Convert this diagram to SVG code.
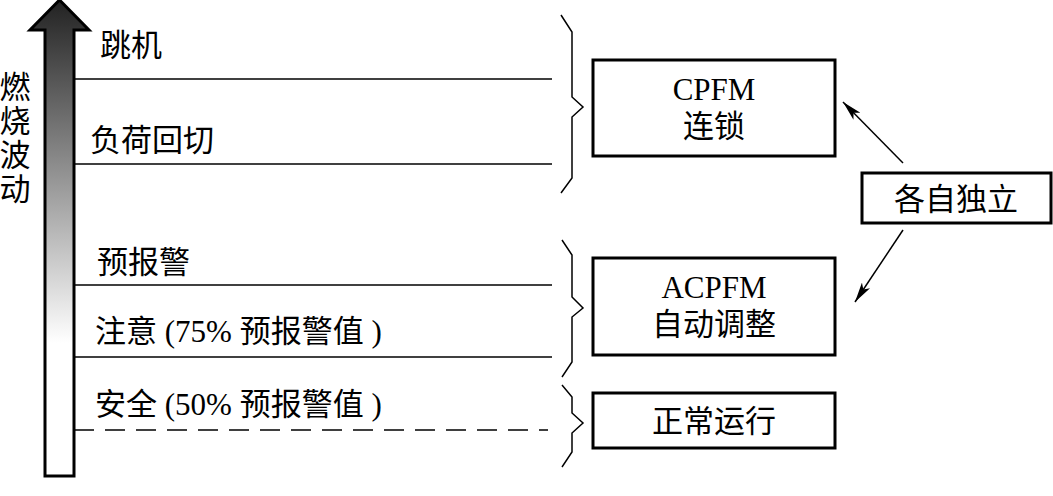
<svg xmlns="http://www.w3.org/2000/svg" width="1053" height="496" viewBox="0 0 1053 496">
<defs>
<linearGradient id="g" x1="0" y1="0" x2="0" y2="1" gradientUnits="objectBoundingBox">
<stop offset="0" stop-color="#222"/>
<stop offset="0.72" stop-color="#fff"/>
<stop offset="1" stop-color="#fff"/>
</linearGradient>
<marker id="ah" viewBox="0 0 20 10" refX="20" refY="5" markerWidth="20" markerHeight="10" markerUnits="userSpaceOnUse" orient="auto">
<path d="M0,0 L20,5 L0,10 L5,5 Z" fill="#000"/>
</marker>
<style>
text{font-family:"Liberation Serif","Noto Sans CJK SC",serif;fill:#000;}
.t{font-size:31px;}
.box{fill:#fff;stroke:#000;stroke-width:3;}
.ln{stroke:#000;stroke-width:1.5;fill:none;}
.br{stroke:#000;stroke-width:1.5;fill:none;}
</style>
</defs>
<rect width="1053" height="496" fill="#fff"/>
<g id="axis">
<path d="M45,476 L45,30 L30,30 L59.5,0 L89,30 L74,30 L74,476 Z" fill="url(#g)" stroke="#000" stroke-width="3" stroke-linejoin="miter"/>
<text class="t" x="15" y="98" text-anchor="middle">燃</text>
<text class="t" x="15" y="132" text-anchor="middle">烧</text>
<text class="t" x="15" y="166" text-anchor="middle">波</text>
<text class="t" x="15" y="200" text-anchor="middle">动</text>
</g>
<g id="levels">
<line class="ln" x1="74" y1="79" x2="552" y2="79"/>
<line class="ln" x1="74" y1="164" x2="552" y2="164"/>
<line class="ln" x1="74" y1="285" x2="552" y2="285"/>
<line class="ln" x1="74" y1="357" x2="552" y2="357"/>
<line class="ln" x1="74" y1="430" x2="548" y2="430" stroke-dasharray="20,11"/>
<text class="t" x="100" y="56">跳机</text>
<text class="t" x="90" y="151">负荷回切</text>
<text class="t" x="97" y="273">预报警</text>
<text class="t" x="95" y="342" xml:space="preserve">注意 (75% 预报警值 )</text>
<text class="t" x="95" y="415" xml:space="preserve">安全 (50% 预报警值 )</text>
</g>
<g id="braces">
<path class="br" d="M561,15 L572,32 L572,97 L583,107 L572,117 L572,178 L561,193"/>
<path class="br" d="M562,240 L572,255 L572,297 L583,308 L572,317 L572,362 L562,377"/>
<path class="br" d="M562,385 L572,397 L572,413 L583,423 L572,433 L572,452 L562,467"/>
</g>
<g id="cpfm">
<rect class="box" x="593" y="60" width="242" height="96"/>
<text class="t" x="714" y="100" text-anchor="middle">CPFM</text>
<text class="t" x="714" y="137" text-anchor="middle">连锁</text>
</g>
<g id="acpfm">
<rect class="box" x="593" y="258" width="242" height="97"/>
<text class="t" x="714" y="298" text-anchor="middle">ACPFM</text>
<text class="t" x="714" y="335" text-anchor="middle">自动调整</text>
</g>
<g id="normal">
<rect class="box" x="593" y="393" width="242" height="55"/>
<text class="t" x="714" y="432" text-anchor="middle">正常运行</text>
</g>
<g id="independent">
<rect class="box" x="862" y="173" width="189" height="50"/>
<text class="t" x="956" y="210" text-anchor="middle">各自独立</text>
</g>
<g id="connectors">
<line class="ln" x1="903" y1="163" x2="843" y2="102" marker-end="url(#ah)"/>
<line class="ln" x1="903" y1="230" x2="855" y2="302" marker-end="url(#ah)"/>
</g>
</svg>
